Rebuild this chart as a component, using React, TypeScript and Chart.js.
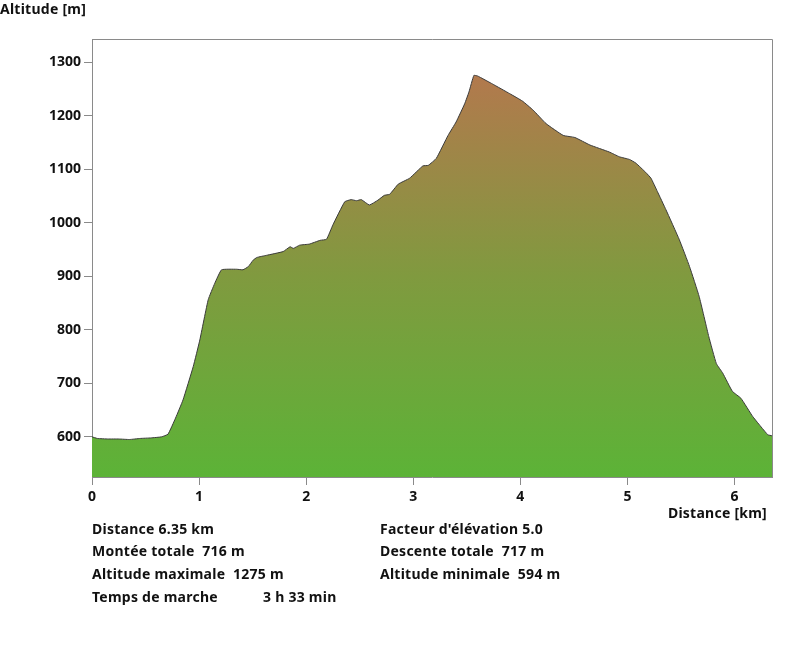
import React, { useEffect, useRef } from "react";
import { Chart, registerables } from "chart.js";

Chart.register(...registerables);

const distanceKm = [
  0, 0.05, 0.15, 0.25, 0.35, 0.45, 0.55, 0.65, 0.71, 0.78, 0.85, 0.945, 1.007, 1.085, 1.147, 1.21,
  1.35, 1.41, 1.46, 1.505, 1.54, 1.63, 1.785, 1.85, 1.88, 1.94, 2.03, 2.13, 2.19, 2.25, 2.36, 2.42,
  2.47, 2.515, 2.59, 2.67, 2.73, 2.78, 2.86, 2.966, 3.09, 3.14, 3.215, 3.325, 3.4, 3.48, 3.52, 3.566,
  3.6, 3.62, 3.74, 3.9, 4.02, 4.12, 4.24, 4.4, 4.51, 4.65, 4.83, 4.925, 5.02, 5.08, 5.17, 5.22, 5.28,
  5.36, 5.485, 5.58, 5.67, 5.76, 5.83, 5.89, 5.98, 6.06, 6.17, 6.31, 6.35,
];
const altitudeM = [
  600, 597, 596, 596, 595, 597, 598, 600, 605, 635, 669, 731, 781, 856, 887, 912,
  913, 912, 918, 930, 935, 939, 946, 955, 952, 958, 960, 967, 969, 996, 1039, 1043,
  1041, 1043, 1033, 1042, 1051, 1053, 1072, 1083, 1106, 1107, 1120, 1163, 1188, 1222, 1244, 1275,
  1274, 1272, 1259, 1241, 1227, 1210, 1185, 1163, 1159, 1145, 1132, 1123, 1118, 1111, 1094, 1083, 1058,
  1024, 968, 918, 862, 787, 737, 719, 685, 672, 638, 604, 602,
];
const yTicks = [600, 700, 800, 900, 1000, 1100, 1200, 1300];
const xTicks = [0, 1, 2, 3, 4, 5, 6];
const statsLeft = ["Distance 6.35 km", "Montée totale  716 m", "Altitude maximale  1275 m", "Temps de marche"];
const statsRight = ["Facteur d'élévation 5.0", "Descente totale  717 m", "Altitude minimale  594 m"];
const walkTime = "3 h 33 min";

const FONT = "'Noto Sans', 'DejaVu Sans', sans-serif";

export default function App() {
  const ref = useRef<HTMLCanvasElement | null>(null);
  useEffect(() => {
    if (!ref.current) return;
    const points = distanceKm.map((d, i) => ({ x: d, y: altitudeM[i] }));
    const peak = Math.max(...altitudeM);
    const chart = new Chart(ref.current, {
      type: "line",
      data: {
        datasets: [
          {
            data: points,
            borderColor: "#3a3a3a",
            borderWidth: 1,
            pointRadius: 0,
            tension: 0.12,
            fill: "start",
            backgroundColor: (ctx: any) => {
              const c = ctx.chart;
              const area = c.chartArea;
              if (!area) return "#6aa83c";
              const yTop = c.scales.y.getPixelForValue(peak);
              const g = c.ctx.createLinearGradient(0, area.bottom, 0, yTop);
              g.addColorStop(0, "#5cb337");
              g.addColorStop(0.5, "#809a3f");
              g.addColorStop(1, "#b2794d");
              return g;
            },
          },
        ],
      },
      options: {
        animation: false,
        responsive: false,
        layout: { padding: { left: 0, top: 39, right: 28, bottom: 0 } },
        plugins: { legend: { display: false }, tooltip: { enabled: false } },
        scales: {
          x: {
            type: "linear",
            min: 0,
            max: 6.35,
            afterFit: (s: any) => { s.height = 178; },
            afterBuildTicks: (s: any) => { s.ticks = xTicks.map((v) => ({ value: v })); },
            border: { display: true, color: "#8a8a8a" },
            grid: { drawOnChartArea: false, drawTicks: true, tickLength: 8, color: "#8a8a8a" },
            ticks: {
              color: "#111",
              padding: 4,
              font: { family: FONT, size: 14, weight: "bold" },
              maxRotation: 0,
              callback: (v: any) => String(v),
            },
          },
          y: {
            type: "linear",
            min: 525,
            max: 1343,
            afterFit: (s: any) => { s.width = 92; },
            afterBuildTicks: (s: any) => { s.ticks = yTicks.map((v) => ({ value: v })); },
            border: { display: true, color: "#8a8a8a" },
            grid: { drawOnChartArea: false, drawTicks: true, tickLength: 8, color: "#8a8a8a" },
            ticks: {
              color: "#111",
              padding: 3,
              font: { family: FONT, size: 14, weight: "bold" },
              callback: (v: any) => String(v),
            },
          },
        },
      },
      plugins: [
        {
          id: "frame",
          afterDraw: (c: any) => {
            const a = c.chartArea;
            const g = c.ctx;
            g.save();
            g.strokeStyle = "#8a8a8a";
            g.lineWidth = 1;
            g.beginPath();
            g.moveTo(a.left, a.top + 0.5);
            g.lineTo(a.right + 0.5, a.top + 0.5);
            g.lineTo(a.right + 0.5, a.bottom);
            g.stroke();
            g.restore();
          },
        },
      ],
    } as any);
    return () => chart.destroy();
  }, []);

  const txt: React.CSSProperties = {
    position: "absolute",
    fontFamily: FONT,
    fontWeight: 700,
    fontSize: 14,
    lineHeight: "16px",
    letterSpacing: "0.25px",
    color: "#111",
    whiteSpace: "pre",
  };
  const rowTops = [521, 543, 566, 589];

  return (
    <div style={{ position: "absolute", left: 0, top: 0, width: 800, height: 655, background: "#fff" }}>
      <canvas ref={ref} width={800} height={655} style={{ position: "absolute", left: 0, top: 0 }} />
      <div style={{ ...txt, left: 0, top: 1 }}>Altitude [m]</div>
      <div style={{ ...txt, right: 33, top: 505 }}>Distance [km]</div>
      {statsLeft.map((s, i) => (
        <div key={"l" + i} style={{ ...txt, left: 92, top: rowTops[i] }}>{s}</div>
      ))}
      <div style={{ ...txt, left: 263, top: rowTops[3] }}>{walkTime}</div>
      {statsRight.map((s, i) => (
        <div key={"r" + i} style={{ ...txt, left: 380, top: rowTops[i] }}>{s}</div>
      ))}
    </div>
  );
}
